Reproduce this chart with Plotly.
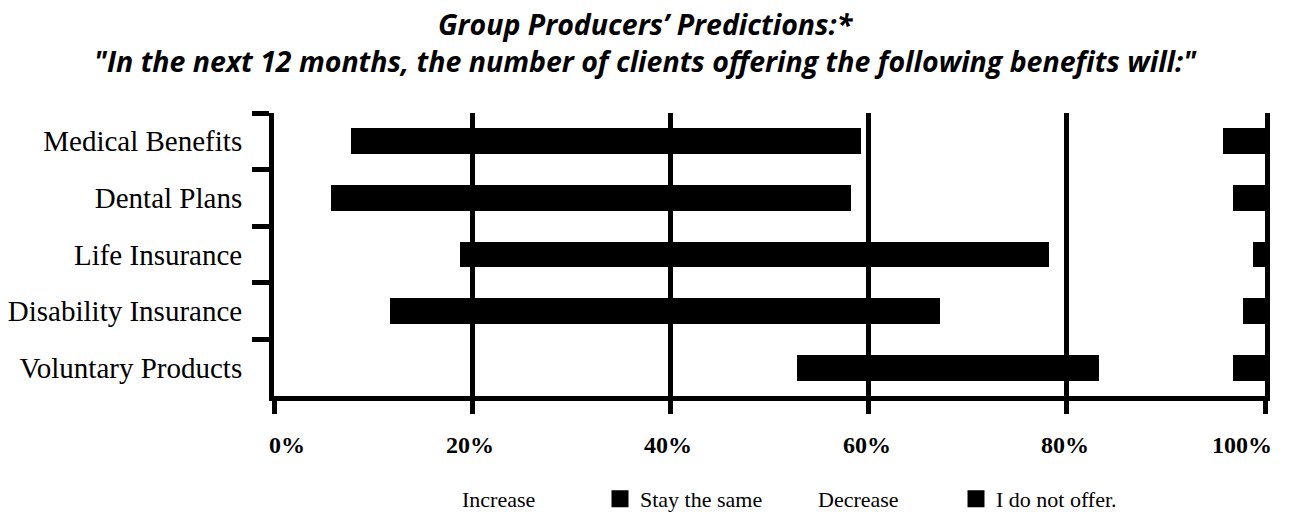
import plotly.graph_objects as go

# ---- data ----
categories = ["Medical Benefits", "Dental Plans", "Life Insurance",
              "Disability Insurance", "Voluntary Products"]
increase = [8, 6, 19, 12, 53]
stay_same = [51, 52, 59, 55, 30]
decrease = [37, 39, 21, 31, 14]
not_offer = [4, 3, 1, 2, 3]
series_names = ["Increase", "Stay the same", "Decrease", "I do not offer."]
x_tickvals = [0, 20, 40, 60, 80, 100]
x_ticktext = ["0%", "20%", "40%", "60%", "80%", "100%"]
title_line1 = "Group Producers’ Predictions:*"
title_line2 = '"In the next 12 months, the number of clients offering the following benefits will:"'

SERIF = "Liberation Serif"
SANS = "Open Sans"

PLOT_TOP, PLOT_H = 113, 283

series_values = [increase, stay_same, decrease, not_offer]
series_visible = [False, True, False, True]

fig = go.Figure()
for name, vals, vis in zip(series_names, series_values, series_visible):
    if vis:
        marker = dict(color="black", line=dict(color="black", width=5))
    else:
        marker = dict(color="rgba(0,0,0,0)", line=dict(color="rgba(0,0,0,0)", width=0))
    fig.add_trace(go.Bar(
        y=categories, x=vals, orientation="h", name=name,
        marker=marker, hoverinfo="name+x",
    ))

annotations = []
# title (two lines) as an annotation so both lines stay inside the page
annotations.append(dict(
    text=title_line1 + "<br>" + title_line2,
    xref="paper", yref="paper", x=(645 - 274) / 991,
    y=1 + (PLOT_TOP - 3) / PLOT_H, xanchor="center", yanchor="top",
    showarrow=False, align="center",
    font=dict(family=SANS, size=28.5, color="black", weight="bold", style="italic")))

# x tick labels: first label starts at its tick, last label ends just past it
for i, (val, txt) in enumerate(zip(x_tickvals, x_ticktext)):
    if i == 0:
        anchor, shift = "left", -7
    elif i == len(x_tickvals) - 1:
        anchor, shift = "right", 9
    else:
        anchor, shift = "center", -2
    annotations.append(dict(
        text=txt, x=val, xref="x", y=0, yref="paper", yshift=-49,
        xanchor=anchor, xshift=shift, yanchor="middle", showarrow=False,
        font=dict(family=SERIF, size=24, color="black", weight="bold")))

fig.update_layout(
    width=1290, height=517,
    margin=dict(l=274, r=25, t=PLOT_TOP, b=517 - PLOT_TOP - PLOT_H, autoexpand=False),
    barmode="stack", bargap=0.63,
    paper_bgcolor="white", plot_bgcolor="white",
    annotations=annotations,
    legend=dict(orientation="h", xref="container", yref="container",
                x=422 / 1290, xanchor="left", y=1 - 499 / 517, yanchor="middle",
                font=dict(family=SERIF, size=22, color="black"),
                entrywidth=133, entrywidthmode="pixels", traceorder="normal",
                bgcolor="rgba(0,0,0,0)"),
    xaxis=dict(range=[0, 100], tickvals=x_tickvals, ticktext=x_ticktext,
               showticklabels=False, automargin=False,
               showgrid=True, gridcolor="black", gridwidth=5,
               showline=True, linecolor="black", linewidth=5,
               ticks="outside", ticklen=13, tickwidth=5, tickcolor="black",
               zeroline=False),
    yaxis=dict(categoryorder="array", categoryarray=categories, autorange="reversed",
               automargin=False,
               showline=True, linecolor="black", linewidth=5, mirror=True,
               ticks="outside", tickson="boundaries", ticklen=17, tickwidth=5,
               tickcolor="black", showgrid=False, zeroline=False,
               ticklabelstandoff=21,
               tickfont=dict(family=SERIF, size=29, color="black")),
)

fig.write_html("out.html")
